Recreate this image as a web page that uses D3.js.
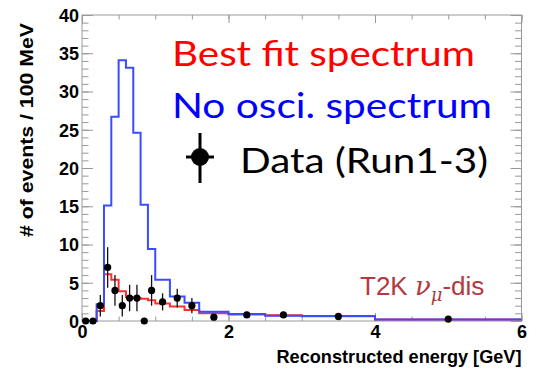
<!DOCTYPE html>
<html>
<head>
<meta charset="utf-8">
<script src="https://cdn.jsdelivr.net/npm/d3@7"></script>
<style>
  body { margin: 0; background: #fff; }
  svg { display: block; }
</style>
</head>
<body>
<div id="chart"></div>
<script>
// bin edges in GeV (variable width, values are per 100 MeV)
var binEdges = [0, 0.1, 0.2, 0.3, 0.4, 0.5, 0.6, 0.7, 0.8, 0.9, 1.0, 1.2, 1.4, 1.6, 2.0, 2.5, 3.0, 4.0, 6.0];
var noOsc   = [0, 0, 2.2, 15.1, 26.7, 34.1, 33.1, 24.6, 15.2, 9.4, 5.4, 3.2, 2.4, 1.2, 0.9, 0.7, 0.65, 0.2];
var bestFit = [0, 0, 1.3, 6.1, 5.4, 3.9, 3.1, 3.0, 2.9, 2.7, 2.3, 1.9, 1.45, 1.0, 0.85, 0.75, 0.62, 0.2];

// data points: bin centre, value, error
var dataE   = [0.05, 0.15, 0.25, 0.35, 0.45, 0.55, 0.65, 0.75, 0.85, 0.95, 1.1, 1.3, 1.5, 1.8, 2.25, 2.75, 3.5, 5.0];
var dataVal = [0, 0, 2, 7, 4, 2, 3, 3, 0, 4, 2.5, 3, 2, 0.5, 0.8, 0.8, 0.6, 0.25];
var dataErr = [0, 0, 1.41, 2.65, 2, 1.41, 1.73, 1.73, 0, 2, 1.12, 1.22, 1, 0.35, 0.4, 0.4, 0.25, 0.11];

var yMajor = d3.range(0, 41, 5);
var yMinor = d3.range(0, 41, 1);
var xMajor = [0, 2, 4, 6];
var xMinor = d3.range(0, 6.01, 0.5);

var W = 534, H = 370;
var pLeft = 82, pRight = 521.5, pTop = 15, pBottom = 321;

var svg = d3.select("#chart").append("svg").attr("width", W).attr("height", H);

var x = d3.scaleLinear().domain([0, 6]).range([pLeft, pRight]);
var y = d3.scaleLinear().domain([0, 40]).range([pBottom, pTop]);

// frame
svg.append("rect").attr("x", pLeft).attr("y", pTop)
    .attr("width", pRight - pLeft).attr("height", pBottom - pTop)
    .attr("fill", "none").attr("stroke", "#999").attr("stroke-width", 1);

function styleAxis(g){
    g.select(".domain").remove();
    g.selectAll("line").attr("stroke", "#999").attr("stroke-width", 1);
    g.selectAll("text").attr("fill", "#000")
        .attr("font-family", "'Liberation Sans', Arial, sans-serif")
        .attr("font-weight", "bold").attr("font-size", 18);
}

// y axis left
svg.append("g").attr("transform", "translate(" + pLeft + ",0)")
    .call(d3.axisLeft(y).tickValues(yMinor).tickSize(-6.5).tickFormat(""))
    .call(styleAxis);
svg.append("g").attr("transform", "translate(" + pLeft + ",0)")
    .call(d3.axisLeft(y).tickValues(yMajor).tickSize(-11).tickPadding(3).tickFormat(d3.format("d")))
    .call(styleAxis)
    .selectAll("text").attr("dy", "0.36em");
// y axis right
svg.append("g").attr("transform", "translate(" + pRight + ",0)")
    .call(d3.axisRight(y).tickValues(yMinor).tickSize(-6.5).tickFormat(""))
    .call(styleAxis);
svg.append("g").attr("transform", "translate(" + pRight + ",0)")
    .call(d3.axisRight(y).tickValues(yMajor).tickSize(-11).tickFormat(""))
    .call(styleAxis);

// x axis bottom
svg.append("g").attr("transform", "translate(0," + pBottom + ")")
    .call(d3.axisBottom(x).tickValues(xMinor).tickSize(-4.5).tickFormat(""))
    .call(styleAxis);
svg.append("g").attr("transform", "translate(0," + pBottom + ")")
    .call(d3.axisBottom(x).tickValues(xMajor).tickSize(-8).tickPadding(4).tickFormat(d3.format("d")))
    .call(styleAxis);
// x axis top
svg.append("g").attr("transform", "translate(0," + pTop + ")")
    .call(d3.axisTop(x).tickValues(xMinor).tickSize(-4.5).tickFormat(""))
    .call(styleAxis);
svg.append("g").attr("transform", "translate(0," + pTop + ")")
    .call(d3.axisTop(x).tickValues(xMajor).tickSize(-8).tickFormat(""))
    .call(styleAxis);

// axis titles
svg.append("text")
    .attr("x", pRight).attr("y", 363)
    .attr("text-anchor", "end")
    .attr("font-family", "'Liberation Sans', Arial, sans-serif")
    .attr("font-weight", "bold").attr("font-size", 18.5)
    .attr("textLength", 245).attr("lengthAdjust", "spacingAndGlyphs")
    .text("Reconstructed energy [GeV]");

svg.append("text")
    .attr("transform", "translate(33,130) rotate(-90)")
    .attr("text-anchor", "middle")
    .attr("font-family", "'Liberation Sans', Arial, sans-serif")
    .attr("font-weight", "bold").attr("font-size", 19)
    .attr("textLength", 214).attr("lengthAdjust", "spacingAndGlyphs")
    .text("# of events / 100 MeV");

// histograms as step lines
function stepPoints(vals){
    var pts = [];
    vals.forEach(function(v, i){
        pts.push([x(binEdges[i]), y(v)]);
        pts.push([x(binEdges[i + 1]), y(v)]);
    });
    return pts;
}
var line = d3.line();
svg.append("path").attr("d", line(stepPoints(bestFit)))
    .attr("fill", "none").attr("stroke", "#ff3030").attr("stroke-width", 2);
svg.append("path").attr("d", line(stepPoints(noOsc)))
    .attr("fill", "none").attr("stroke", "#3b4cff").attr("stroke-width", 2);

// data points with error bars
var pts = svg.append("g");
dataE.forEach(function(e, i){
    if (dataErr[i] > 0){
        pts.append("line")
            .attr("x1", x(e)).attr("x2", x(e))
            .attr("y1", y(dataVal[i] - dataErr[i])).attr("y2", y(dataVal[i] + dataErr[i]))
            .attr("stroke", "#111").attr("stroke-width", 1.3);
    }
    pts.append("circle").attr("cx", x(e)).attr("cy", y(dataVal[i]))
        .attr("r", 3.6).attr("fill", "#000");
});

// legend
var lf = "Lato, 'Open Sans', sans-serif";
svg.append("text").attr("x", 172).attr("y", 66).attr("fill", "#ff0000")
    .attr("font-family", lf).attr("font-size", 35)
    .attr("textLength", 303).attr("lengthAdjust", "spacingAndGlyphs")
    .text("Best fit spectrum");
svg.append("text").attr("x", 172).attr("y", 118).attr("fill", "#0000ff")
    .attr("font-family", lf).attr("font-size", 35)
    .attr("textLength", 320).attr("lengthAdjust", "spacingAndGlyphs")
    .text("No osci. spectrum");
svg.append("text").attr("x", 240).attr("y", 173).attr("fill", "#000")
    .attr("font-family", lf).attr("font-size", 35)
    .attr("textLength", 248).attr("lengthAdjust", "spacingAndGlyphs")
    .text("Data (Run1-3)");
svg.append("line").attr("x1", 200).attr("x2", 200).attr("y1", 133).attr("y2", 183)
    .attr("stroke", "#000").attr("stroke-width", 3);
svg.append("line").attr("x1", 186).attr("x2", 214).attr("y1", 157).attr("y2", 157)
    .attr("stroke", "#000").attr("stroke-width", 3);
svg.append("circle").attr("cx", 200).attr("cy", 157).attr("r", 9).attr("fill", "#000");

// experiment label
var t2k = svg.append("text").attr("x", 360).attr("y", 295).attr("fill", "#b03a3e")
    .attr("font-family", "'Liberation Sans', Arial, sans-serif").attr("font-size", 26);
t2k.append("tspan").text("T2K ");
t2k.append("tspan").attr("font-style", "italic").attr("font-family", "'DejaVu Serif', serif").text("ν");
t2k.append("tspan").attr("font-style", "italic").attr("font-family", "'DejaVu Serif', serif")
    .attr("font-size", 18).attr("dy", 6).text("μ");
t2k.append("tspan").attr("dy", -6).text("-dis");
</script>
</body>
</html>
